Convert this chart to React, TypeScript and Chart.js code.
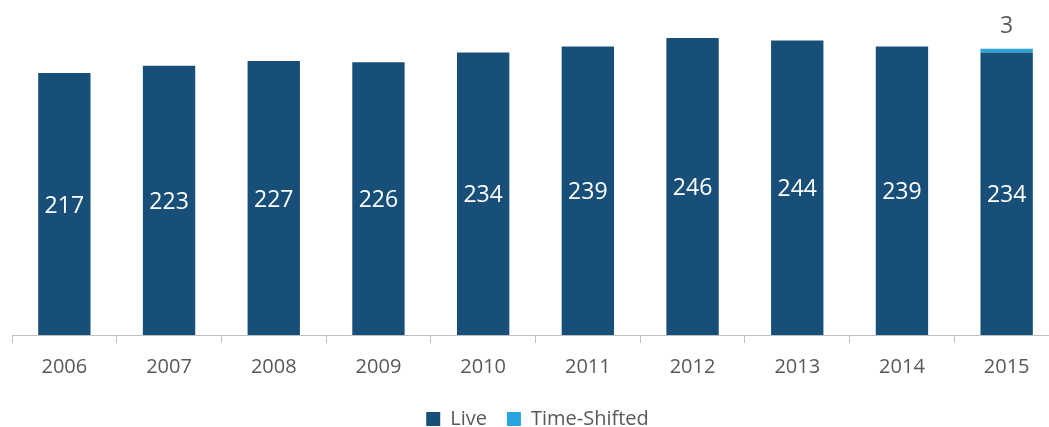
import React, { useEffect, useRef } from "react";
import { Chart, registerables } from "chart.js";

Chart.register(...registerables);

const years = ["2006", "2007", "2008", "2009", "2010", "2011", "2012", "2013", "2014", "2015"];
const liveValues = [217, 223, 227, 226, 234, 239, 246, 244, 239, 234];
const timeShiftedValues: (number | null)[] = [null, null, null, null, null, null, null, null, null, 3];

const LIVE_COLOR = "#174f79";
const TS_COLOR = "#29a4de";
const TEXT_GRAY = "#595959";
const AXIS_GRAY = "#bfbfbf";
const FONT = "'Open Sans', sans-serif";

const labelPlugin = {
  id: "barLabels",
  afterDatasetsDraw(chart: any) {
    const ctx = chart.ctx;
    ctx.save();
    ctx.textAlign = "center";
    ctx.textBaseline = "middle";
    chart.data.datasets.forEach((ds: any, di: number) => {
      const meta = chart.getDatasetMeta(di);
      meta.data.forEach((bar: any, i: number) => {
        const v = ds.data[i];
        if (v === null || v === undefined) return;
        const props = bar.getProps(["x", "y", "base"], true);
        if (di === 0) {
          ctx.fillStyle = "#ffffff";
          ctx.font = `23px ${FONT}`;
          ctx.fillText(String(v), props.x, (props.y + props.base) / 2 + 2);
        } else {
          ctx.fillStyle = TEXT_GRAY;
          ctx.font = `23px ${FONT}`;
          ctx.fillText(String(v), props.x, props.y - 22);
        }
      });
    });
    ctx.restore();
  },
};

const legendShift = {
  id: "legendShift",
  afterLayout(chart: any) {
    if (chart.legend) {
      chart.legend.left += 2;
      chart.legend.right += 2;
      chart.legend.top += 12;
      chart.legend.bottom += 12;
    }
  },
};

export default function App() {
  const ref = useRef<HTMLCanvasElement>(null);
  useEffect(() => {
    if (!ref.current) return;
    const chart = new Chart(ref.current, {
      type: "bar",
      data: {
        labels: years,
        datasets: [
          {
            label: "Live",
            data: liveValues,
            backgroundColor: LIVE_COLOR,
            barPercentage: 0.5,
            categoryPercentage: 1,
          },
          {
            label: "Time-Shifted",
            data: timeShiftedValues,
            backgroundColor: TS_COLOR,
            barPercentage: 0.5,
            categoryPercentage: 1,
          },
        ],
      },
      options: {
        animation: false,
        responsive: true,
        maintainAspectRatio: false,
        layout: { padding: { left: 12, right: 12, top: 9, bottom: 0 } },
        plugins: {
          legend: {
            position: "bottom",
            labels: {
              boxWidth: 14,
              boxHeight: 14,
              padding: 20,
              color: TEXT_GRAY,
              font: { family: FONT, size: 20 },
            },
          },
          tooltip: { enabled: false },
        },
        scales: {
          x: {
            stacked: true,
            grid: {
              display: true,
              drawOnChartArea: false,
              drawTicks: true,
              tickLength: 8,
              color: AXIS_GRAY,
              offset: true,
            },
            border: { display: true, color: AXIS_GRAY, width: 1 },
            ticks: {
              color: TEXT_GRAY,
              font: { family: FONT, size: 20 },
              padding: 12,
            },
            afterFit: (scale: any) => {
              scale.height = 42;
            },
          },
          y: {
            stacked: true,
            display: false,
            min: 0,
            max: 270,
          },
        },
      },
      plugins: [labelPlugin, legendShift],
    });
    return () => chart.destroy();
  }, []);

  return (
    <div style={{ position: "absolute", left: 0, top: 0, width: 1049, height: 427, overflow: "hidden", background: "#fff" }}>
      <div style={{ position: "relative", width: 1071, height: 427 }}>
        <canvas ref={ref} />
      </div>
    </div>
  );
}
